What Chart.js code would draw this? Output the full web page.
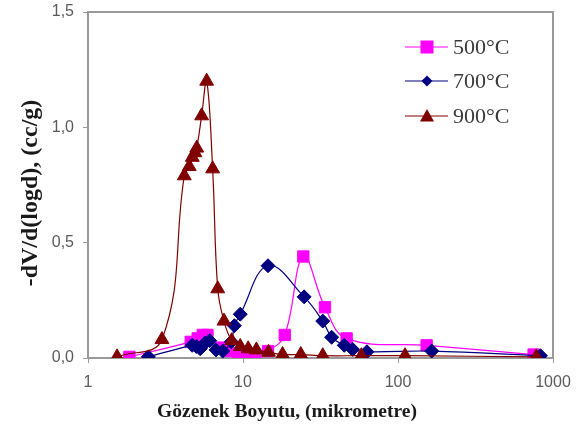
<!DOCTYPE html>
<html>
<head>
<meta charset="utf-8">
<script src="https://cdn.jsdelivr.net/npm/chart.js@4/dist/chart.umd.min.js"></script>
<style>
  html, body { margin: 0; padding: 0; background: #fff; }
  #wrap { width: 585px; height: 439px; }
</style>
</head>
<body>
<div id="wrap"><canvas id="poreChart" width="585" height="439"></canvas></div>
<script>
// pore size (micrometre) and -dV/d(logd) values
var x500 = [1.85, 4.6, 5.1, 5.5, 5.9, 7.0, 8.0, 9.3, 10.5, 12, 14.5, 18.6, 24.5, 33.8, 46.6, 153, 750];
var y500 = [0.005, 0.07, 0.085, 0.1, 0.1, 0.045, 0.03, 0.02, 0.015, 0.015, 0.03, 0.1, 0.44, 0.22, 0.085, 0.055, 0.015];

var x700 = [2.45, 4.7, 5.0, 5.3, 5.7, 6.1, 6.7, 7.4, 8.4, 8.8, 9.6, 14.5, 24.8, 32.7, 37.3, 45, 51, 63, 165, 830];
var y700 = [0.005, 0.055, 0.05, 0.04, 0.065, 0.075, 0.035, 0.03, 0.07, 0.14, 0.19, 0.40, 0.265, 0.16, 0.09, 0.055, 0.037, 0.027, 0.03, 0.01];

var x900 = [1.54, 3.0, 4.18, 4.5, 4.71, 4.9, 5.03, 5.41, 5.83, 6.37, 6.87, 7.54, 8.45, 9.6, 10.8, 12.2, 14.6, 18, 23.6, 32.7, 58, 111, 780];
var y900 = [0.005, 0.08, 0.79, 0.83, 0.87, 0.89, 0.91, 1.05, 1.20, 0.82, 0.30, 0.16, 0.075, 0.05, 0.04, 0.035, 0.025, 0.015, 0.015, 0.01, 0.01, 0.01, 0.005];

var seriesLabels = ["500°C", "700°C", "900°C"];
var xTickValues = [1, 10, 100, 1000];
var yTickValues = [0, 0.5, 1.0, 1.5];

var colors = ["#ff00ff", "#000080", "#800000"];
var markers = ["rect", "rectRot", "triangle"];

function toPoints(xs, ys) {
  return xs.map(function (x, i) {
    return { x: x, y: ys[i] };
  });
}

function makeDataset(idx, xs, ys, radius) {
  return {
    label: seriesLabels[idx],
    data: toPoints(xs, ys),
    borderColor: colors[idx],
    backgroundColor: colors[idx],
    borderWidth: 1.2,
    pointStyle: markers[idx],
    pointRadius: radius,
    pointBorderWidth: 1,
    pointBackgroundColor: colors[idx],
    pointBorderColor: colors[idx],
    tension: 0.4,
    fill: false,
    order: 3 - idx,
  };
}

// legend, axis titles and plot frame drawn on top of the chart
var extrasPlugin = {
  id: "extras",
  afterDraw: function (chart) {
    var ctx = chart.ctx;
    var area = chart.chartArea;
    ctx.save();

    // frame (top + right)
    ctx.strokeStyle = "#9a9a9a";
    ctx.lineWidth = 2;
    ctx.beginPath();
    ctx.moveTo(area.left, area.top);
    ctx.lineTo(area.right, area.top);
    ctx.lineTo(area.right, area.bottom);
    ctx.stroke();

    // legend
    var rowY = [47, 81, 116];
    var sizes = [6.5, 5.5, 7];
    for (var i = 0; i < 3; i++) {
      var y = rowY[i];
      ctx.strokeStyle = colors[i];
      ctx.lineWidth = 1.2;
      ctx.beginPath();
      ctx.moveTo(405, y);
      ctx.lineTo(448, y);
      ctx.stroke();
      ctx.fillStyle = colors[i];
      var cx = 427, s = sizes[i];
      ctx.beginPath();
      if (markers[i] === "rect") {
        ctx.rect(cx - s, y - s, 2 * s, 2 * s);
      } else if (markers[i] === "rectRot") {
        ctx.moveTo(cx, y - s);
        ctx.lineTo(cx + s, y);
        ctx.lineTo(cx, y + s);
        ctx.lineTo(cx - s, y);
        ctx.closePath();
      } else {
        ctx.moveTo(cx, y - s);
        ctx.lineTo(cx + s, y + s * 0.8);
        ctx.lineTo(cx - s, y + s * 0.8);
        ctx.closePath();
      }
      ctx.fill();
      ctx.fillStyle = "#3a3a3a";
      ctx.font = "22px 'Liberation Serif', 'Times New Roman', serif";
      ctx.textAlign = "left";
      ctx.textBaseline = "middle";
      ctx.fillText(seriesLabels[i], 453, y + 1);
    }

    // axis titles
    ctx.fillStyle = "#1a1a1a";
    ctx.font = "bold 19.5px 'Liberation Serif', 'Times New Roman', serif";
    ctx.textAlign = "center";
    ctx.textBaseline = "middle";
    ctx.fillText("Gözenek Boyutu, (mikrometre)", 287, 412);

    ctx.translate(31, 193);
    ctx.rotate(-Math.PI / 2);
    ctx.font = "bold 24px 'Liberation Serif', 'Times New Roman', serif";
    ctx.fillText("-dV/d(logd), (cc/g)", 0, 0);
    ctx.restore();
  },
};

var tickFont = { family: "'Liberation Sans', Arial, sans-serif", size: 16 };

var ctx = document.getElementById("poreChart").getContext("2d");
var poreChart = new Chart(ctx, {
  type: "line",
  data: {
    datasets: [
      makeDataset(0, x500, y500, 8),
      makeDataset(1, x700, y700, 7),
      makeDataset(2, x900, y900, 8),
    ],
  },
  options: {
    responsive: false,
    animation: false,
    devicePixelRatio: 1,
    layout: { padding: { top: 12, right: 32, left: 0, bottom: 0 } },
    plugins: {
      legend: { display: false },
      tooltip: { enabled: false },
    },
    scales: {
      x: {
        type: "logarithmic",
        min: 1,
        max: 1000,
        afterBuildTicks: function (scale) {
          scale.ticks = xTickValues.map(function (v) {
            return { value: v, major: true };
          });
        },
        afterFit: function (scale) {
          scale.height = 81;
          scale.paddingLeft = 0;
          scale.paddingRight = 0;
        },
        ticks: {
          autoSkip: false,
          maxRotation: 0,
          padding: 10,
          color: "#5a5a5a",
          font: tickFont,
          callback: function (value) {
            return String(value);
          },
        },
        grid: { drawOnChartArea: false, drawTicks: true, tickLength: 5, color: "#9a9a9a" },
        border: { color: "#9a9a9a", width: 2 },
      },
      y: {
        min: 0,
        max: 1.5,
        afterBuildTicks: function (scale) {
          scale.ticks = yTickValues.map(function (v) {
            return { value: v };
          });
        },
        afterFit: function (scale) {
          scale.width = 88;
          scale.paddingTop = 0;
          scale.paddingBottom = 0;
        },
        ticks: {
          padding: 9,
          color: "#5a5a5a",
          font: tickFont,
          callback: function (value) {
            return value.toFixed(1).replace(".", ",");
          },
        },
        grid: { drawOnChartArea: false, drawTicks: true, tickLength: 5, color: "#9a9a9a" },
        border: { color: "#9a9a9a", width: 2 },
      },
    },
  },
  plugins: [extrasPlugin],
});
</script>
</body>
</html>
